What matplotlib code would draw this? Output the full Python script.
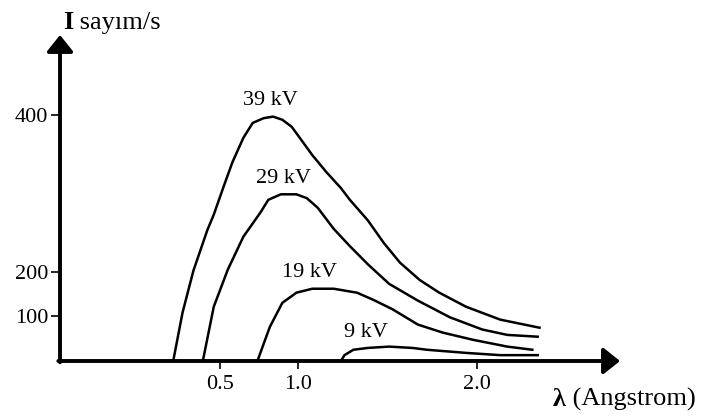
import numpy as np
import matplotlib.pyplot as plt

plt.rcParams['font.family'] = ['Liberation Serif', 'DejaVu Serif']

# wavelength (Angstrom) and intensity (sayim/s) for each tube voltage
lam_39 = [0.20, 0.26, 0.33, 0.42, 0.46, 0.52, 0.58, 0.65, 0.71, 0.78, 0.84, 0.90, 0.96,
          1.01, 1.08, 1.16, 1.24, 1.29, 1.39, 1.48, 1.57, 1.68, 1.79, 1.94, 2.13, 2.35]
I_39 = [0, 108, 202, 254, 273, 307, 340, 371, 390, 396, 398, 394, 385,
        371, 349, 327, 307, 292, 266, 237, 212, 182, 153, 121, 92, 74]

lam_29 = [0.39, 0.46, 0.55, 0.65, 0.76, 0.81, 0.89, 0.99, 1.05, 1.11, 1.20, 1.29,
          1.39, 1.51, 1.67, 1.85, 2.03, 2.17, 2.34]
I_29 = [0, 121, 203, 245, 276, 292, 299, 299, 294, 282, 255, 233,
        210, 173, 135, 97, 70, 58, 54]

lam_19 = [0.74, 0.82, 0.90, 0.99, 1.08, 1.20, 1.33, 1.42, 1.53, 1.67, 1.81, 1.98,
          2.17, 2.31]
I_19 = [0, 76, 130, 153, 162, 162, 153, 137, 115, 81, 63, 47, 32, 25]

lam_9 = [1.24, 1.26, 1.31, 1.39, 1.51, 1.64, 1.72, 1.94, 2.13, 2.34]
I_9 = [0, 13, 25, 29, 32, 29, 25, 18, 13, 13]

voltages = ['39 kV', '29 kV', '19 kV', '9 kV']
x_ticks = [0.5, 1.0, 2.0]
x_ticklabels = ['0.5', '1.0', '2.0']
y_ticks = [100, 200, 400]
y_ticklabels = ['100', '200', '400']


def piecewise(src, dst):
    # linear between knots, straight extension past the ends
    src = np.asarray(src, float)
    dst = np.asarray(dst, float)
    lo = (dst[1] - dst[0]) / (src[1] - src[0])
    hi = (dst[-1] - dst[-2]) / (src[-1] - src[-2])

    def f(v):
        v = np.asarray(v, float)
        out = np.interp(v, src, dst)
        out = np.where(v < src[0], dst[0] + (v - src[0]) * lo, out)
        out = np.where(v > src[-1], dst[-1] + (v - src[-1]) * hi, out)
        return out
    return f


# the hand-drawn axes are not evenly spaced
X_KNOTS, X_SPAN = [0.5, 1.0, 2.0], [0, 78, 257]
Y_KNOTS, Y_SPAN = [0, 100, 200, 400], [0, 45, 89, 246]

fig = plt.figure(figsize=(7.11, 4.17), dpi=100)
ax = fig.add_axes([0.0844, 0.1343, 0.7876, 0.7818])
ax.set_xscale('function', functions=(piecewise(X_KNOTS, X_SPAN), piecewise(X_SPAN, X_KNOTS)))
ax.set_yscale('function', functions=(piecewise(Y_KNOTS, Y_SPAN), piecewise(Y_SPAN, Y_KNOTS)))
ax.set_xlim(-0.526, 2.80)
ax.set_ylim(0, 502)

curves = [(lam_39, I_39), (lam_29, I_29), (lam_19, I_19), (lam_9, I_9)]
offsets = [(-1.5, 11.5), (2, 11.5), (-2, 12), (-16.5, 10)]
for (lam, inten), name, off in zip(curves, voltages, offsets):
    ax.plot(lam, inten, color='black', lw=1.8, solid_joinstyle='round')
    k = int(np.argmax(inten))
    ax.annotate(name, xy=(lam[k], inten[k]), xytext=off, textcoords='offset points',
                ha='center', va='center', fontsize=16)

for s in ax.spines.values():
    s.set_visible(False)

arrow = dict(arrowstyle='-|>,head_length=0.5,head_width=0.4', lw=2.8,
             color='black', shrinkA=0, shrinkB=0, mutation_scale=20)
ax.annotate('', xy=(1, 0), xytext=(-0.003, 0), xycoords='axes fraction', arrowprops=arrow)
ax.annotate('', xy=(0, 1), xytext=(0, -0.004), xycoords='axes fraction', arrowprops=arrow)

ax.set_xticks(x_ticks, x_ticklabels)
ax.set_yticks(y_ticks, y_ticklabels)
ax.tick_params(axis='x', direction='out', length=5.8, width=1.2, pad=4, labelsize=16)
ax.tick_params(axis='y', direction='out', length=6.5, width=1.2, pad=2, labelsize=16)

# axis titles, bold symbol followed by the unit
t = fig.text(0.0886, 0.946, 'I', fontsize=19, fontweight='bold', va='center')
ax.annotate(' sayım/s', xy=(1, 0), xycoords=t, va='bottom', fontsize=19)
t = fig.text(0.778, 0.041, 'λ', fontsize=19, fontweight='bold', va='center')
ax.annotate(' (Angstrom)', xy=(1, 0), xycoords=t, va='bottom', fontsize=19)

fig.savefig('out.png', dpi=100)
